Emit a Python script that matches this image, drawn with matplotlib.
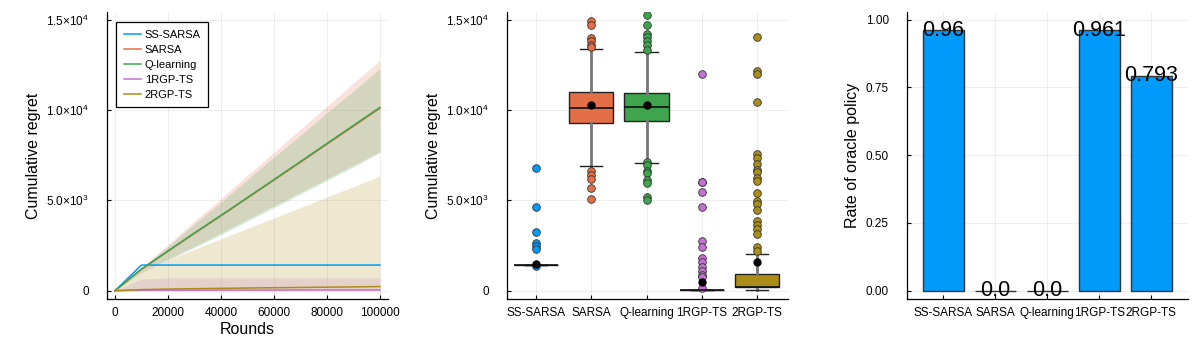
"""Cumulative regret, regret distribution and oracle-policy rate for five agents."""
import matplotlib

matplotlib.use("Agg")
import matplotlib.pyplot as plt

import numpy as np

plt.rcParams["font.family"] = ["Liberation Sans", "DejaVu Sans"]
plt.rcParams["mathtext.default"] = "regular"

# --- data ---
agents = ["SS-SARSA", "SARSA", "Q-learning", "1RGP-TS", "2RGP-TS"]
colors = ["#009AFA", "#E36F47", "#3EA44E", "#C371D2", "#AC8D18"]

rounds = [0, 10000, 20000, 30000, 40000, 50000, 60000, 70000, 80000, 90000, 100000]

ss_sarsa_mean = [0, 1420, 1420, 1420, 1420, 1420, 1420, 1420, 1420, 1420, 1420]
sarsa_mean = [0, 1180, 2180, 3170, 4140, 5130, 6120, 7110, 8110, 9100, 10100]
sarsa_upper = [0, 1300, 2550, 3850, 5100, 6400, 7650, 8950, 10200, 11500, 12750]
sarsa_lower = [0, 1000, 1750, 2450, 3200, 3950, 4700, 5450, 6200, 6950, 7700]
qlearn_mean = [0, 1200, 2200, 3200, 4170, 5160, 6150, 7150, 8150, 9150, 10150]
qlearn_upper = [0, 1250, 2450, 3700, 4900, 6150, 7400, 8600, 9850, 11050, 12300]
qlearn_lower = [0, 1000, 1700, 2400, 3100, 3850, 4600, 5350, 6100, 6850, 7650]
rgp1_mean = [0, 25, 30, 30, 35, 35, 35, 40, 40, 40, 40]
rgp1_upper = [0, 650, 710, 710, 710, 710, 710, 710, 710, 710, 710]
rgp1_lower = [0, 0, 0, 0, 0, 0, 0, 0, 0, 0, 0]
rgp2_mean = [0, 60, 90, 110, 130, 150, 165, 180, 195, 210, 230]
rgp2_upper = [0, 1000, 1700, 2300, 2870, 3450, 4030, 4600, 5190, 5760, 6340]
rgp2_lower = [0, 0, 0, 0, 0, 0, 0, 0, 0, 0, 0]

# box statistics of the final cumulative regret
box_q1 = [1400, 9300, 9410, 30, 180]
box_med = [1420, 10130, 10190, 40, 230]
box_q3 = [1440, 10985, 10930, 50, 900]
box_whislo = [1400, 6890, 7090, 30, 40]
box_whishi = [1440, 13365, 13230, 50, 2015]
box_mean = [1480, 10300, 10300, 465, 1590]
box_fliers = [
    [6810, 4650, 3250, 2660, 2470, 2310, 1370],
    [14950, 14720, 14010, 13800, 13620, 13500, 6630, 6410, 6170, 5700, 5060],
    [15250, 14710, 14200, 14070, 13840, 13600, 13330, 7110, 6960, 6630, 6500,
     6130, 5980, 5200, 5020],
    [12000, 6030, 6000, 5480, 4630, 2750, 2400, 1790, 1600, 1330, 1090, 870,
     740, 130],
    [14050, 12150, 12000, 10450, 7570, 7330, 7015, 6680, 6555, 6260, 6075,
     5390, 4965, 4800, 4470, 3860, 3640, 3400, 3140, 2400, 2200],
]

oracle_rate = [0.96, 0.0, 0.0, 0.961, 0.793]
oracle_text = ["0.96", "0.0", "0.0", "0.961", "0.793"]

regret_ticks = [0, 5000, 10000, 15000]
regret_ticklabels = ["0", "5.0×10$^{3}$", "1.0×10$^{4}$", "1.5×10$^{4}$"]


def style_axis(ax) -> None:
    """Julia/GR-like axis look."""
    for side in ["top", "right"]:
        ax.spines[side].set_visible(False)
    for side in ["left", "bottom"]:
        ax.spines[side].set_linewidth(0.9)
    ax.tick_params(direction="in", length=3, width=0.8, labelsize=8.5)
    ax.tick_params(axis="y", pad=13)
    ax.tick_params(axis="x", pad=6)
    ax.grid(True, color="black", alpha=0.08, linewidth=0.6)
    ax.set_axisbelow(True)


def plot_all() -> None:
    fig = plt.figure(figsize=(12, 3.5), dpi=100)
    ax1 = fig.add_axes([0.0892, 0.1457, 0.234, 0.82])
    ax2 = fig.add_axes([0.4225, 0.1457, 0.234, 0.82])
    ax3 = fig.add_axes([0.7558, 0.1457, 0.234, 0.82])

    # --- 1. Cumulative regret over rounds ---
    ribbons = [
        (ss_sarsa_mean, ss_sarsa_mean, ss_sarsa_mean),
        (sarsa_mean, sarsa_lower, sarsa_upper),
        (qlearn_mean, qlearn_lower, qlearn_upper),
        (rgp1_mean, rgp1_lower, rgp1_upper),
        (rgp2_mean, rgp2_lower, rgp2_upper),
    ]
    for name, color, (mean, lo, hi) in zip(agents, colors, ribbons):
        ax1.fill_between(rounds, lo, hi, color=color, alpha=0.2, linewidth=0)
        ax1.plot(rounds, mean, color=color, linewidth=1.1, label=name)

    ax1.set_xlim(-3000, 103000)
    ax1.set_ylim(-460, 15430)
    ax1.set_xticks([0, 20000, 40000, 60000, 80000, 100000])
    ax1.set_yticks(regret_ticks)
    ax1.set_yticklabels(regret_ticklabels)
    ax1.set_xlabel("Rounds", fontsize=11.5, labelpad=2)
    ax1.set_ylabel("Cumulative regret", fontsize=11.5)
    style_axis(ax1)
    leg = ax1.legend(
        loc="upper left",
        bbox_to_anchor=(0.031, 0.966),
        borderaxespad=0,
        fontsize=8,
        frameon=True,
        fancybox=False,
        framealpha=1,
        edgecolor="black",
        handlelength=1.6,
        handletextpad=0.3,
        labelspacing=0.45,
        borderpad=0.7,
    )
    leg.get_frame().set_linewidth(0.9)

    # --- 2. Distribution of final regret ---
    stats = []
    for i, name in enumerate(agents):
        stats.append(
            dict(
                label=name,
                q1=box_q1[i],
                med=box_med[i],
                q3=box_q3[i],
                whislo=box_whislo[i],
                whishi=box_whishi[i],
                mean=box_mean[i],
                fliers=np.array(box_fliers[i]),
            )
        )
    bp = ax2.bxp(
        stats,
        positions=range(len(agents)),
        widths=0.8,
        capwidths=0.4,
        patch_artist=True,
        showmeans=True,
        boxprops=dict(edgecolor="#222222", linewidth=1.0),
        whiskerprops=dict(color="#777777", linewidth=2.0),
        capprops=dict(color="#222222", linewidth=1.0),
        medianprops=dict(color="#111111", linewidth=1.2),
        meanprops=dict(marker="o", markerfacecolor="black", markeredgecolor="black",
                       markersize=5),
        flierprops=dict(marker="o", markersize=5.5, markeredgecolor="#333333",
                        markeredgewidth=0.6),
    )
    for patch, color in zip(bp["boxes"], colors):
        patch.set_facecolor(color)
    for flier, color in zip(bp["fliers"], colors):
        flier.set_markerfacecolor(color)
    for m in bp["means"]:
        m.set_zorder(5)

    ax2.set_xlim(-0.52, 4.55)
    ax2.set_ylim(-460, 15430)
    ax2.set_xticks(range(len(agents)))
    ax2.set_xticklabels(agents)
    ax2.set_yticks(regret_ticks)
    ax2.set_yticklabels(regret_ticklabels)
    ax2.set_ylabel("Cumulative regret", fontsize=11.5)
    style_axis(ax2)

    # --- 3. Rate of oracle policy ---
    xpos = np.arange(len(agents))
    ax3.bar(xpos, oracle_rate, width=0.8, color="#009AFA", edgecolor="#333333",
            linewidth=1.0)
    for x, v, t in zip(xpos, oracle_rate, oracle_text):
        ax3.text(x, v, t, ha="center", va="center", fontsize=15.5, color="black")
    ax3.set_xlim(-0.7, 4.7)
    ax3.set_ylim(-0.031, 1.028)
    ax3.set_xticks(xpos)
    ax3.set_xticklabels(agents)
    ax3.set_yticks([0, 0.25, 0.5, 0.75, 1.0])
    ax3.set_yticklabels(["0.00", "0.25", "0.50", "0.75", "1.00"])
    ax3.set_ylabel("Rate of oracle policy", fontsize=11.5)
    style_axis(ax3)

    plt.savefig("out.png", dpi=100)
    plt.close(fig)


if __name__ == "__main__":
    plot_all()
